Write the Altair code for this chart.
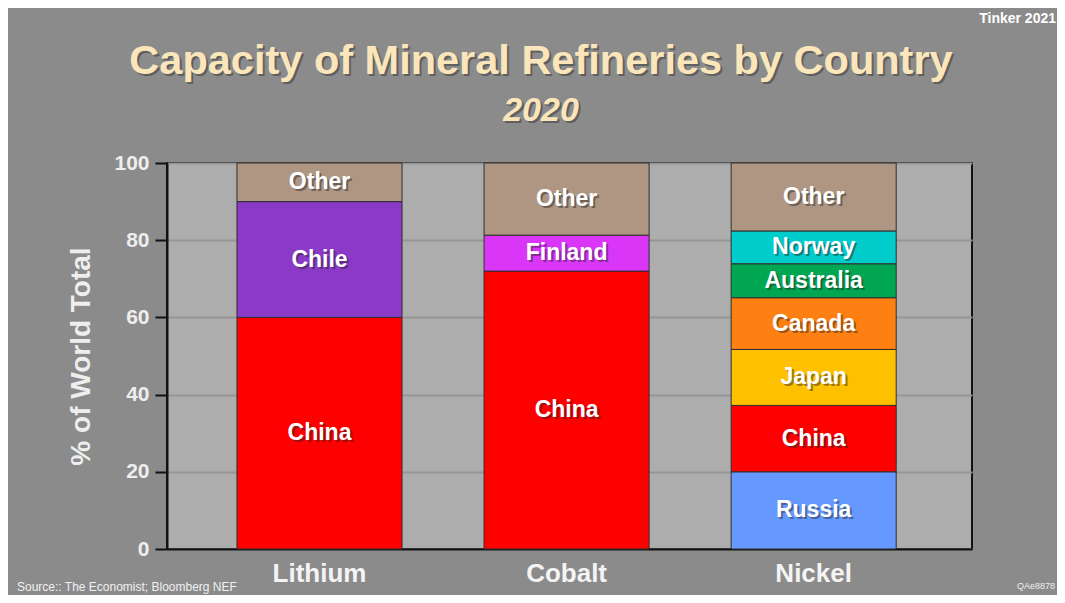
import altair as alt
import pandas as pd

# ---- data ----
minerals = ["Lithium", "Cobalt", "Nickel"]
lithium_countries = ["China", "Chile", "Other"]
lithium_values = [60, 30, 10]
cobalt_countries = ["China", "Finland", "Other"]
cobalt_values = [72, 9.3, 18.7]
nickel_countries = ["Russia", "China", "Japan", "Canada", "Australia", "Norway", "Other"]
nickel_values = [20, 17.2, 14.5, 13.4, 8.8, 8.5, 17.6]

country_domain = ["China", "Chile", "Finland", "Russia", "Japan", "Canada",
                  "Australia", "Norway", "Other"]
country_colors = ["#ff0000", "#8a3ac6", "#d936f7", "#6699ff", "#ffc000", "#ff8012",
                  "#00a651", "#00cccc", "#ae9683"]

y_ticks = [0, 20, 40, 60, 80, 100]
title_text = "Capacity of Mineral Refineries by Country"
subtitle_text = "2020"
credit_text = "Tinker 2021"
source_text = "Source:: The  Economist; Bloomberg NEF"
code_text = "QAe8878"
y_title = "% of World Total"

rows = []
for m, cs, vs in [("Lithium", lithium_countries, lithium_values),
                  ("Cobalt", cobalt_countries, cobalt_values),
                  ("Nickel", nickel_countries, nickel_values)]:
    for i, (c, v) in enumerate(zip(cs, vs)):
        rows.append({"mineral": m, "country": c, "value": v, "order": i})
df = pd.DataFrame(rows)

FONT = "Liberation Sans"
W, H = 805, 386

x_enc = alt.X("mineral:N", sort=minerals,
              scale=alt.Scale(paddingInner=0.332, paddingOuter=0.295, align=0.48),
              axis=alt.Axis(title=None, labelFontSize=26, labelFont=FONT,
                            labelFontWeight="bold", labelColor="#f4f4f4",
                            labelAngle=0, labelPadding=11, ticks=False,
                            domainColor="#111111", domainWidth=2))

base = alt.Chart(df)

bars = base.mark_bar(stroke="#2e2e2e", strokeWidth=1).encode(
    x=x_enc,
    y=alt.Y("value:Q", stack="zero",
            scale=alt.Scale(domain=[0, 100], nice=False),
            axis=alt.Axis(title=y_title, values=y_ticks, titleFont=FONT,
                          titleFontSize=28, titleFontWeight="bold",
                          titleColor="#eeeeee", titlePadding=18,
                          labelFont=FONT, labelFontSize=21, labelFontWeight="bold",
                          labelColor="#eeeeee", labelPadding=6,
                          tickColor="#111111", tickSize=12, tickWidth=2,
                          domainColor="#111111", domainWidth=2,
                          grid=True, gridColor="#969696", gridWidth=2)),
    color=alt.Color("country:N", scale=alt.Scale(domain=country_domain, range=country_colors),
                    legend=None),
    order=alt.Order("order:Q"),
)

stacked = base.transform_stack(
    stack="value", as_=["y0", "y1"], groupby=["mineral"],
    sort=[alt.SortField("order", order="ascending")]
).transform_calculate(mid="(datum.y0 + datum.y1) / 2")

label_shadow = stacked.mark_text(font=FONT, fontSize=23, fontWeight="bold",
                                 color="#222222", opacity=0.45, dx=2, dy=2,
                                 baseline="middle").encode(
    x=alt.X("mineral:N", sort=minerals), y=alt.Y("mid:Q"), text="country:N")
labels = stacked.mark_text(font=FONT, fontSize=23, fontWeight="bold",
                           color="#ffffff", baseline="middle").encode(
    x=alt.X("mineral:N", sort=minerals), y=alt.Y("mid:Q"), text="country:N")

ann = pd.DataFrame({"t": [title_text]})
title_shadow = alt.Chart(ann).mark_text(font=FONT, fontSize=41.5, fontWeight="bold",
                                        color="#2a2a2a", opacity=0.45, align="center").encode(
    x=alt.value(376), y=alt.value(-99), text="t:N")
title_main = alt.Chart(ann).mark_text(font=FONT, fontSize=41.5, fontWeight="bold",
                                      color="#fbe6bb", align="center").encode(
    x=alt.value(374), y=alt.value(-101), text="t:N")

sub = pd.DataFrame({"t": [subtitle_text]})
sub_shadow = alt.Chart(sub).mark_text(font=FONT, fontSize=34, fontWeight="bold",
                                      fontStyle="italic", color="#2a2a2a", opacity=0.45,
                                      align="center").encode(
    x=alt.value(376), y=alt.value(-50), text="t:N")
sub_main = alt.Chart(sub).mark_text(font=FONT, fontSize=34, fontWeight="bold",
                                    fontStyle="italic", color="#fbe6bb",
                                    align="center").encode(
    x=alt.value(374), y=alt.value(-52), text="t:N")

credit = alt.Chart(pd.DataFrame({"t": [credit_text]})).mark_text(
    font=FONT, fontSize=14, fontWeight="bold", color="#ffffff", align="right",
    baseline="alphabetic").encode(x=alt.value(889), y=alt.value(-140), text="t:N")
source = alt.Chart(pd.DataFrame({"t": [source_text]})).mark_text(
    font=FONT, fontSize=12, color="#f0f0f0", align="left",
    baseline="alphabetic").encode(x=alt.value(-150), y=alt.value(428), text="t:N")
code = alt.Chart(pd.DataFrame({"t": [code_text]})).mark_text(
    font=FONT, fontSize=9, color="#f0f0f0", align="right",
    baseline="alphabetic").encode(x=alt.value(888), y=alt.value(426), text="t:N")

chart = alt.layer(bars, label_shadow, labels, title_shadow, title_main,
                  sub_shadow, sub_main, credit, source, code).properties(
    width=W, height=H,
    background="#8b8b8b",
    padding={"left": 159, "top": 155, "right": 85, "bottom": 46},
    autosize=alt.AutoSizeParams(type="none"),
).configure_view(fill="#adadad", stroke="#111111", strokeWidth=2)

chart.save("out.html", embed_options={"renderer": "svg", "actions": False})
